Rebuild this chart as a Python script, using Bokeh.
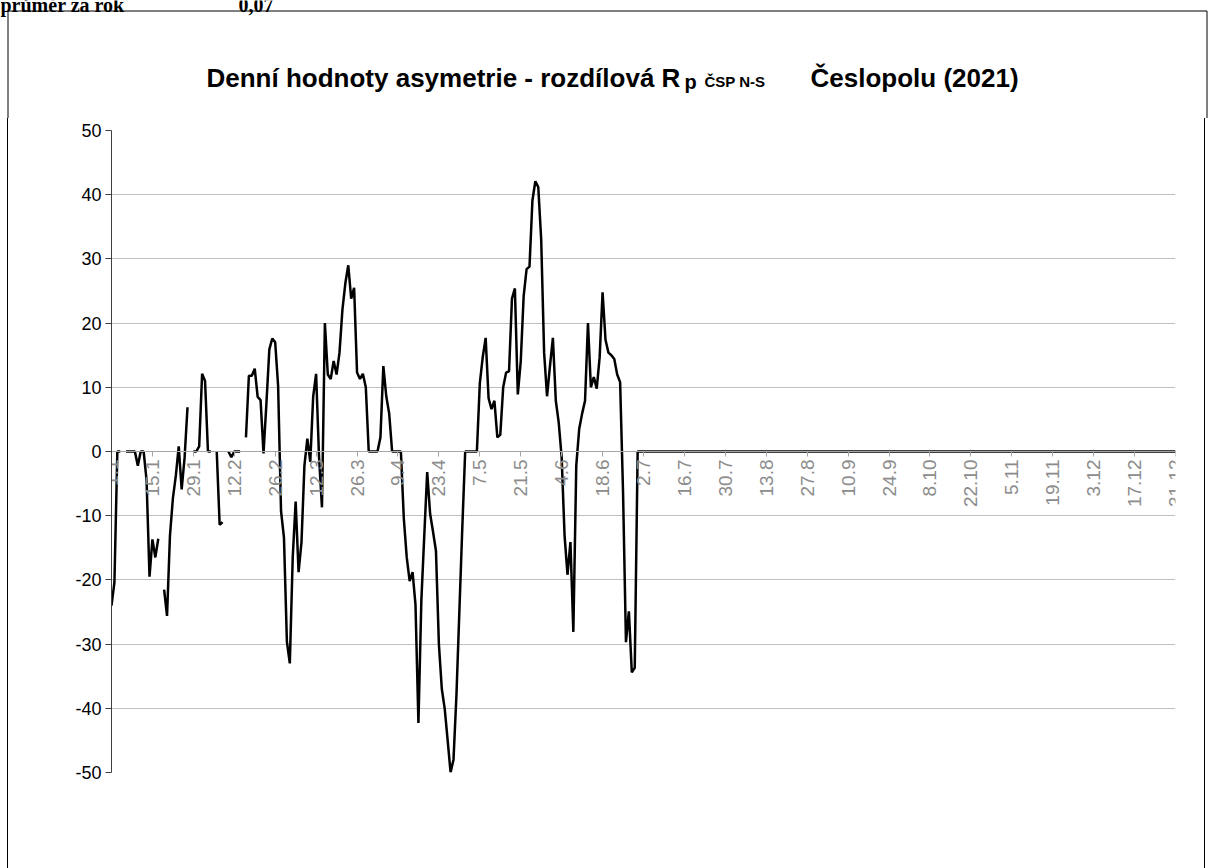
import numpy as np
from bokeh.plotting import figure
from bokeh.layouts import column
from bokeh.models import Range1d, FixedTicker, ColumnDataSource
from bokeh.core.properties import value
from bokeh.embed import file_html
from bokeh.resources import INLINE

# Daily values, 1.1.2021 onward (None = missing day)
values_h1 = [
    -24, -20.4, 0, 0, None, 0, 0, 0, 0, -2.2,
    0, 0, -4.5, -19.5, -13.7, -16.5, -13.6, None, -21.5, -25.6,
    -13.1, -7.3, -3.8, 0.8, -5.9, -1, 6.9, None, 0, 0,
    0.8, 12.1, 11, 0, 0, None, 0, -11.4, -11, None,
    0, -0.9, 0, 0, 0, None, 2.2, 11.8, 11.8, 12.9,
    8.5, 8, -0.3, 7.5, 15.9, 17.6, 17, 10.2, -9.3, -13.4,
    -29.6, -33, -16.5, -7.8, -18.8, -14.1, -2.2, 2, -1.6, 8.6,
    12.1, -0.9, -8.7, 20, 12, 11.3, 14.1, 12, 15.4, 22.1,
    26.2, 29, 23.8, 25.5, 12.3, 11.3, 12.1, 10, 0, 0,
    0, 0, 2.2, 13.3, 8.6, 5.9, 0, 0, 0, 0,
    -10.4, -16.5, -20.2, -18.8, -23.9, -42.3, -23.2, -13.1, -3.2, -9.7,
    -12.5, -15.5, -30, -37, -40.1, -45, -50, -48, -38, -25,
    -12, 0, 0, 0, 0, 0, 10.6, 14.7, 17.7, 8.3,
    6.6, 7.9, 2.2, 2.6, 10, 12.3, 12.5, 23.8, 25.4, 8.9,
    14, 24.2, 28.4, 28.8, 39.1, 42.1, 41.2, 33, 15.4, 8.6,
    13.3, 17.7, 7.9, 4.5, -0.9, -13.1, -19.2, -14.1, -28.1, -2.2,
    3.5, 5.9, 7.9, 20, 10, 11.6, 9.8, 14.7, 24.8, 17.4,
    15.4, 15, 14.4, 12, 10.8, -6.3, -29.7, -24.9, -34.4, -33.7,
    0,
]
values_h2 = [0.0] * 184  # rest of the year reads as 0

tick_days = [0, 14, 28, 42, 56, 70, 84, 98, 112, 126, 140, 154, 168, 182,
             196, 210, 224, 238, 252, 266, 280, 294, 308, 322, 336, 350, 364]
tick_labels = ["1.1", "15.1", "29.1", "12.2", "26.2", "12.3", "26.3", "9.4",
               "23.4", "7.5", "21.5", "4.6", "18.6", "2.7", "16.7", "30.7",
               "13.8", "27.8", "10.9", "24.9", "8.10", "22.10", "5.11",
               "19.11", "3.12", "17.12", "31.12"]
y_ticks = [-50, -40, -30, -20, -10, 0, 10, 20, 30, 40, 50]
y_labels = ["-50", "-40", "-30", "-20", "-10", "0", "10", "20", "30", "40", "50"]

title_main = "Denní hodnoty asymetrie - rozdílová R"
title_sub1 = "p"
title_sub2 = "ČSP N-S"
title_end = "Česlopolu (2021)"
header_texts = ["průměr za rok", "0,07"]

vals = [np.nan if v is None else float(v) for v in values_h1 + values_h2]
days = list(range(len(vals)))
src = ColumnDataSource(dict(day=days, val=vals))

# ---------- header / title strip (pixel coordinates, y downwards) ----------
TW, TH = 1209, 118
t = figure(width=TW, height=TH, output_backend="svg", toolbar_location=None,
           x_range=Range1d(0, TW), y_range=Range1d(TH, 0),
           min_border=0, min_border_left=0, min_border_right=0,
           min_border_top=0, min_border_bottom=0)
t.frame_align = False
t.axis.visible = False
t.grid.visible = False
t.outline_line_color = None
t.background_fill_color = "white"
t.border_fill_color = "white"

# chart frame (left, top, right) of the chart object
t.segment(x0=[7.5, 7.5, 1206.5], y0=[10.5, 10.5, 10.5],
          x1=[7.5, 1206.5, 1206.5], y1=[TH, 10.5, TH],
          line_color="black", line_width=1)

t.text(x=[0, 238], y=[4, 4], text=header_texts,
       text_font=value("Liberation Serif"), text_font_size="20px",
       text_font_style="bold", text_color="black", text_baseline="alphabetic")

tf = value("Liberation Sans")
t.text(x=[206], y=[77], text=[title_main], text_font=tf,
       text_font_size="26px", text_font_style="bold", text_color="black",
       text_baseline="alphabetic")
t.text(x=[684], y=[81], text=[title_sub1], text_font=tf,
       text_font_size="20px", text_font_style="bold", text_color="black",
       text_baseline="alphabetic")
t.text(x=[704], y=[81], text=[title_sub2], text_font=tf,
       text_font_size="15px", text_font_style="bold", text_color="black",
       text_baseline="alphabetic")
t.text(x=[810], y=[77], text=[title_end], text_font=tf,
       text_font_size="26px", text_font_style="bold", text_color="black",
       text_baseline="alphabetic")

# ---------- chart ----------
p = figure(width=1198, height=750, output_backend="svg", toolbar_location=None,
           x_range=Range1d(0, 364), y_range=Range1d(-50, 50),
           min_border_left=103, min_border_right=31, min_border_top=12,
           min_border_bottom=96)
p.frame_align = False
p.margin = (0, 0, 0, 7)
p.styles = {"border-left": "1px solid #000000", "border-right": "1px solid #000000"}
p.outline_line_color = None
p.background_fill_color = "white"
p.border_fill_color = "white"

p.xgrid.visible = False
p.ygrid.ticker = FixedTicker(ticks=y_ticks)
p.ygrid.grid_line_color = "#bfbfbf"
p.ygrid.grid_line_width = 1

p.yaxis.ticker = FixedTicker(ticks=y_ticks)
p.yaxis.major_label_overrides = {tk: lb for tk, lb in zip(y_ticks, y_labels)}
p.yaxis.axis_line_color = "#404040"
p.yaxis.major_tick_line_color = "#404040"
p.yaxis.major_tick_out = 6
p.yaxis.major_tick_in = 0
p.yaxis.minor_tick_line_color = None
p.yaxis.major_label_text_font = "Liberation Sans"
p.yaxis.major_label_text_font_size = "18px"
p.yaxis.major_label_text_color = "#000000"
p.yaxis.major_label_standoff = 4

p.xaxis.fixed_location = 0
p.xaxis.ticker = FixedTicker(ticks=tick_days)
p.xaxis.major_label_overrides = {d: lb for d, lb in zip(tick_days, tick_labels)}
p.xaxis.major_label_orientation = np.pi / 2
p.xaxis.axis_line_color = "#a6a6a6"
p.xaxis.major_tick_line_color = "#a6a6a6"
p.xaxis.major_tick_out = 5
p.xaxis.major_tick_in = 0
p.xaxis.minor_tick_line_color = None
p.xaxis.major_label_text_font = "Liberation Sans"
p.xaxis.major_label_text_font_size = "19px"
p.xaxis.major_label_text_color = "#8c8c8c"
p.xaxis.major_label_standoff = 3

p.line("day", "val", source=src, line_color="black", line_width=2.5)

layout = column(t, p, spacing=0)
open("out.html", "w").write(file_html(layout, INLINE))
